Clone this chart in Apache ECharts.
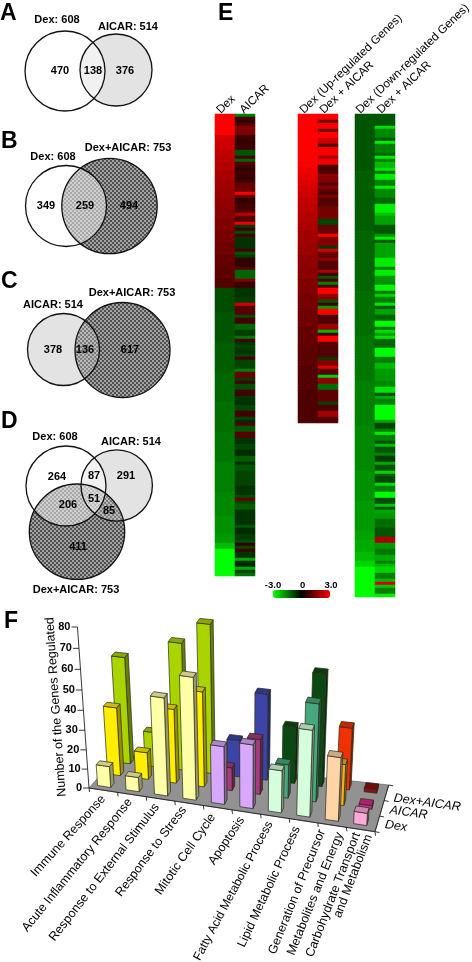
<!DOCTYPE html>
<html lang="en">
  <head>
    <meta charset="UTF-8" />
    <title>Dex AICAR gene figure</title>
    <style>
      html, body { margin: 0; padding: 0; background: #fff; overflow: hidden; }
      #main { width: 472px; height: 962px; }
    </style>
  </head>
  <body>
    <div id="main"></div>
    <script src="https://cdn.jsdelivr.net/npm/echarts@6/dist/echarts.min.js"></script>
    <script>
      // ---- data ----
      const vennTitles = ["Dex: 608", "AICAR: 514", "Dex: 608", "Dex+AICAR: 753", "AICAR: 514", "Dex+AICAR: 753", "Dex: 608", "AICAR: 514", "Dex+AICAR: 753"];
      const vennCounts = [470, 138, 376, 349, 259, 494, 378, 136, 617, 264, 87, 291, 206, 51, 85, 411];
      const panelLetters = ["A", "B", "C", "D", "E", "F"];
      const heatColumns = ["Dex", "AICAR", "Dex (Up-regulated Genes)", "Dex + AICAR", "Dex (Down-regulated Genes)", "Dex + AICAR"];

      // panel E, columns top to bottom
      const leftDex = [
        3,3,3,3,3,3,3,
        2.5,2.5,2.4,2.4,2.4,2.3,2.3,2.2,2.2,2.1,2.1,2.1,2,2,2,1.9,1.9,1.9,1.8,1.8,1.8,1.7,1.7,1.7,
        1.6,1.6,1.6,1.6,1.5,1.5,1.5,1.5,1.4,1.4,1.4,1.4,1.3,1.3,1.3,1.3,1.2,1.2,1.2,1.2,1.1,1.1,1.1,1.1,1,1,1,
        -0.9,-0.9,-0.9,-0.9,-0.9,-0.9,-0.9,-0.9,-1,-1,-1,-1,-1,-1,-1,-1,-1,-1,
        -1.1,-1.1,-1.1,-1.1,-1.1,-1.1,-1.1,-1.1,-1.1,-1.1,-1.2,-1.2,-1.2,-1.2,-1.2,-1.2,-1.2,-1.2,-1.2,-1.2,
        -1.3,-1.3,-1.3,-1.3,-1.3,-1.3,-1.3,-1.3,-1.3,-1.3,-1.4,-1.4,-1.4,-1.4,-1.4,-1.4,-1.4,-1.4,-1.4,-1.4,
        -1.5,-1.5,-1.5,-1.5,-1.5,-1.5,-1.5,-1.5,-1.5,-1.5,-1.6,-1.6,-1.6,-1.6,-1.6,-1.6,-1.6,-1.6,
        -1.7,-1.7,-1.7,-1.7,-1.7,-1.7,-1.8,-1.8,-1.8,-2.2,-2.2,-3,-3,-3,-3,-3,-3,-3,-3,-3
      ];
      const leftAicar = [
        -1.5,0.8,0.6,1,1.5,1.5,1.5,0.7,0.7,0.6,0.7,0.7,-1,-1,0.8,-1.2,1,0.7,0.6,0.7,0.7,0.6,0.8,1.2,1.2,1.2,3,1.2,0.6,0.6,
        0.8,0.8,1,2.2,1,1,2.8,-0.7,0.7,-0.9,0.8,-0.6,-0.6,-0.6,-0.6,0.8,-1,-0.7,0.6,0.6,0.6,1,-1.2,-1.2,-1.2,1.5,0.7,0.7,
        -0.6,-0.6,-0.6,-0.7,-0.7,2.5,1,1,1,-0.9,0.8,0.8,-1.2,-1.2,-0.7,-0.7,-1.4,0.8,-0.6,-0.8,-0.7,-0.6,-0.8,0.8,-0.8,-0.8,-0.8,-1.5,
        1.2,1.2,-0.7,0.8,-0.9,-0.9,0.8,0.8,-0.6,-0.6,-0.6,-0.8,-0.8,0.8,0.8,-0.8,-0.5,1,-1,-1,1,1,-0.6,-0.6,-0.8,-0.8,
        -0.5,-0.5,-1.1,-1.1,-0.6,-1,-1,-0.8,-0.8,-0.8,-0.8,-0.8,-0.6,-0.6,-0.6,-0.9,1.2,-0.8,-1.1,-1.1,-0.6,-0.6,-0.6,-0.6,-0.6,-1,
        -0.5,-0.5,-0.7,-0.7,-0.9,0.6,-0.8,0.8,-0.6,-0.6,-2,-0.5,-0.5,-2,-0.8,-1.3
      ];
      const midDex = [
        3,3,3,3,3,3,3,3,3,3,3,3,3,3,3,3,
        2.9,2.9,2.8,2.8,2.7,2.7,2.6,2.6,2.5,2.5,2.4,2.4,2.3,2.3,2.2,2.2,2.2,2.1,2.1,2.1,2,2,2,
        1.9,1.9,1.9,1.9,1.8,1.8,1.8,1.8,1.7,1.7,1.7,1.7,1.6,1.6,1.6,1.6,1.5,1.5,1.5,1.5,1.5,
        1.4,1.4,1.4,1.4,1.4,1.3,1.3,1.3,1.3,1.3,1.3,1.2,1.2,1.2,1.2,1.2,1.2,
        1.1,1.1,1.1,1.1,1.1,1.1,1.1,1,1,1,1,1,1,1,1,0.9,0.9,0.9,0.9,0.9,0.9,0.9,0.9,0.9,0.9,0.9
      ];
      const midCombo = [
        3,3,1.2,3,3,1.2,3,3,2.4,2.4,0.9,2.9,2.9,2.9,2,2.8,2.8,0.9,0.9,0.9,1.7,1.5,1.5,1,1.6,1.2,0.9,1.5,1,1,
        1,1.4,1.4,1.4,1.4,-0.8,-0.8,1.2,1.2,1.2,3,1.5,1.5,1.6,-0.7,2.5,1.2,1.2,1.7,1,1,0.9,2,0.8,-1,0.9,
        -1.5,1,3,3,1.8,1.6,-1,0.8,-1.8,3,3,0.9,0.9,0.9,1.8,1.8,-2.2,0.8,3,3,1,1,1,1,1,-0.7,1.5,1.5,2.6,1,1,-2.4,
        1.7,1.7,-1.3,-1.3,1.1,1.1,1.1,1.1,-0.8,0.9,0.9,1.9,1.9,1,1
      ];
      const rightDex = [
        -1,-1,-1,-1,-1,-1,-1,-1,-1,-1,-1,-1,-1,-1,-1,-1,-1,-1,-1,
        -1.1,-1.1,-1.1,-1.1,-1.1,-1.1,-1.1,-1.1,-1.1,-1.1,-1.1,-1.1,-1.1,-1.1,-1.1,-1.1,-1.1,-1.1,-1.1,-1.1,
        -1.2,-1.2,-1.2,-1.2,-1.2,-1.2,-1.2,-1.2,-1.2,-1.2,-1.2,-1.2,-1.2,-1.2,-1.2,-1.2,-1.2,-1.2,-1.2,-1.2,
        -1.3,-1.3,-1.3,-1.3,-1.3,-1.3,-1.3,-1.3,-1.3,-1.3,-1.3,-1.3,-1.3,-1.3,-1.3,
        -1.4,-1.4,-1.4,-1.4,-1.4,-1.4,-1.4,-1.4,-1.4,-1.4,-1.4,-1.4,-1.4,-1.4,-1.4,
        -1.5,-1.5,-1.5,-1.5,-1.5,-1.5,-1.5,-1.5,-1.5,-1.5,-1.5,-1.5,-1.5,-1.5,-1.5,
        -1.6,-1.6,-1.6,-1.6,-1.6,-1.6,-1.6,-1.6,-1.6,-1.6,-1.6,-1.6,-1.6,-1.6,-1.6,
        -1.7,-1.7,-1.7,-1.7,-1.7,-1.7,-1.7,-1.7,-1.7,-1.7,-1.8,-1.8,-1.8,-1.8,-1.8,-1.8,-1.8,-1.8,-1.8,-1.8,
        -1.9,-1.9,-1.9,-2,-2,-2,-2,-2.2,-2.2,-2.2,-2.5,-2.5,-3,-3,-3,-3,-3,-3,-3,-3,-3,-3
      ];
      const rightCombo = [
        -1,-1,-1,-1,-2.6,-1.6,-1.6,-1.6,-1,-2.8,-1.5,-1.5,-1.5,-1.2,-2.8,-1.5,-2.2,-2.2,-2.7,-1.4,-2.8,-2.8,-1.5,-1.5,-2.8,-1.6,-1.6,-1.6,-1.2,-1.2,
        -2.8,-2.8,-2.8,-2.3,-1.9,-1.9,-1.9,-1,-1,-1,-1.8,-2.8,-1,-1.9,-1.9,-1.9,-1.9,-1.9,-2.8,-2.8,-2.8,-1.5,-2.8,-2.8,-1.8,-1.8,-1.6,-2.9,-2.9,-1.4,
        -2.5,-1.5,-1.5,-2.7,-1,-1.9,-1.9,-1.2,-1.2,-3,-3,-1.3,-2.6,-1.9,-2.7,-1.2,-1.2,-1.2,-3,-3,-3,-1.5,-1.5,-2.2,-2.2,-1.8,-1.8,-1.8,-1.8,-1.6,
        -1.6,-2.7,-2.7,-0.9,-2,-1.5,-1.5,-3,-3,-3,-3,-3,-2,-0.8,-0.8,-1.5,-2.8,-1.5,-1.5,-1,-2.2,-1,-1,-1.5,-0.7,-0.7,-2,-1,-1,-2.5,
        -1.1,-0.8,-0.8,-2.6,-1.5,-1.5,-3,-3,-0.9,-0.9,-2.3,-1,-2,-1.8,-1.8,-1.3,-1.3,-1.3,-1,-1,-1,2,2,-1.8,-1.8,-1.4,-1.4,-2,-2,-1.5,
        -2.2,-2.5,-2.5,-1.5,-1.5,-2.2,2.5,-2.4,-1.5,-1.5,-2.8
      ];

      // panel F
      const categories = [
        "Immune Response", "Acute Inflammatory Response", "Response to External Stimulus", "Response to Stress",
        "Mitotic Cell Cycle", "Apoptosis", "Fatty Acid Metabolic Process", "Lipid Metabolic Process",
        "Generation of Precursor\nMetabolites and Energy", "Carbohydrate Transport\nand Metabolism"
      ];
      const seriesNames = ["Dex", "AICAR", "Dex+AICAR"];
      const dexGenes = [11, 7.5, 50, 62, 30, 33, 22, 44.5, 33, 6.5];
      const aicarGenes = [35, 14, 38, 48.5, 12, 28.5, 17.5, 50, 21.5, 2];
      const comboGenes = [54, 18, 64, 74.5, 19, 44, 29, 57, 32, 2];
      const valueTicks = [0, 10, 20, 30, 40, 50, 60, 70, 80];

      // colours by category, then Dex / AICAR / Dex+AICAR
      const barColors = [
        ["#ffffa8", "#ffee00", "#aad400"], ["#ffffa8", "#ffee00", "#aad400"],
        ["#ffffa8", "#ffee00", "#aad400"], ["#ffffa8", "#ffee00", "#aad400"],
        ["#d8a8ff", "#a83a80", "#3c44a8"], ["#d8a8ff", "#a83a80", "#3c44a8"],
        ["#d5ffdc", "#47a87e", "#0a4a12"], ["#d5ffdc", "#47a87e", "#0a4a12"],
        ["#ffd5a8", "#f5b020", "#f03000"], ["#ffa8dc", "#d42a8c", "#8b1010"]
      ];

      // ---- layout (page pixels) ----
      const FONT = '"Liberation Sans", Arial, sans-serif';
      const letterPos = [[0, 25], [1, 153], [1, 293], [1, 433], [218, 25], [4, 633]];
      const titlePos = [[57, 20], [128, 27], [53, 157], [128, 148], [53, 305], [132, 293], [55, 437], [131, 442], [76, 590]];
      const countPos = [
        [60, 71], [93, 71], [125, 71], [46, 206], [85, 206], [129, 206], [53, 350], [85, 350], [130, 350],
        [57, 476.5], [94, 476], [126, 476], [68, 504.5], [94, 499], [109, 511], [78, 547]
      ];
      const columnLabelPos = [[218.5, 111.7], [241.7, 111.7], [301.7, 111.7], [321.7, 111.7], [358, 111.7], [379, 111.7]];
      // panel circles: [cx, cy, r]
      const dexCircles = [[65, 71, 40], [66, 206, 40.5], [66, 486, 40]];
      const aicarCircles = [[116, 70, 36], [63.5, 349.5, 36], [116.7, 485.5, 35.7]];
      const comboCircles = [[109.5, 206, 47.7], [122.5, 350, 47.5], [77, 531.7, 47.7]];
      const colorbarLabels = [["-3.0", 273, 585.5], ["0", 302.7, 585.5], ["3.0", 331, 585.5]];
      // [x, y, angle, font size] at the upper end of each label line
      const labelAnchors = [
        [103.3, 797, 48, 12.5], [130, 800, 51, 12.5], [157, 805, 52, 12.5], [184, 808, 53, 12.5],
        [213, 815, 55, 12.5], [242, 818, 56, 12.5], [270, 822, 62, 12.1], [297, 827, 65, 12.5],
        [322, 830, 68, 12.5], [340, 833, 68, 12.5], [357, 833, 69, 12.5], [369, 835, 69, 12.5]
      ];
      const legendAnchors = [[385, 824.5], [389.7, 810], [393.7, 798]];
      const floorCorners = { fl: [89, 788], fr: [375, 831.7], br: [388.7, 785], bl: [118, 755] };

      function checker() {
        const c = document.createElement("canvas");
        c.width = 4;
        c.height = 4;
        const g = c.getContext("2d");
        g.fillStyle = "#505050";
        g.fillRect(0, 0, 4, 4);
        g.fillStyle = "#a2a2a2";
        g.fillRect(0, 0, 2, 2);
        g.fillRect(2, 2, 2, 2);
        return c;
      }
      const dotted = { image: checker(), repeat: "repeat" };

      // venn draw order: fills first, overlays next, outlines last
      const vennLayers = [];
      aicarCircles.forEach((c) => vennLayers.push([...c, { fill: "#dadada" }]));
      comboCircles.forEach((c) => vennLayers.push([...c, { fill: dotted }]));
      aicarCircles.forEach((c) => vennLayers.push([...c, { fill: "rgba(255,255,255,0.25)" }]));
      dexCircles.forEach((c) => vennLayers.push([...c, { fill: "rgba(255,255,255,0.5)" }]));
      [...dexCircles, ...aicarCircles, ...comboCircles].forEach((c) =>
        vennLayers.push([...c, { fill: null, stroke: "#111", lineWidth: 1.3 }])
      );

      // all page text
      const pageText = [];
      panelLetters.forEach((t, i) =>
        pageText.push({ text: t, pos: letterPos[i], font: "bold 23px " + FONT, align: "left", baseline: "bottom" })
      );
      vennTitles.forEach((t, i) => pageText.push({ text: t, pos: titlePos[i], font: "bold 11px " + FONT }));
      vennCounts.forEach((t, i) => pageText.push({ text: String(t), pos: countPos[i], font: "bold 11px " + FONT }));
      heatColumns.forEach((t, i) =>
        pageText.push({ text: t, pos: columnLabelPos[i], font: "11.7px " + FONT, align: "left", rot: 44 })
      );
      colorbarLabels.forEach((l) => pageText.push({ text: l[0], pos: [l[1], l[2]], font: "bold 9.5px " + FONT }));
      pageText.push({ text: "Number of the Genes Regulated", pos: [56, 707], font: "12.5px " + FONT, rot: 94 });
      categories
        .flatMap((c) => c.split("\n"))
        .forEach((t, i) => {
          const a = labelAnchors[i];
          pageText.push({ text: t, pos: [a[0], a[1]], font: a[3] + "px " + FONT, align: "right", rot: a[2] });
        });
      seriesNames.forEach((t, i) =>
        pageText.push({ text: t, pos: legendAnchors[i], font: "italic 12.5px " + FONT, align: "left", rot: -8 })
      );

      // ---- panel F projection ----
      function floorPoint(u, v) {
        const f = floorCorners;
        const lx = f.fl[0] + (f.bl[0] - f.fl[0]) * v;
        const ly = f.fl[1] + (f.bl[1] - f.fl[1]) * v;
        const rx = f.fr[0] + (f.br[0] - f.fr[0]) * v;
        const ry = f.fr[1] + (f.br[1] - f.fr[1]) * v;
        return [lx + (rx - lx) * u, ly + (ry - ly) * u];
      }
      // verticals lean away from x=245 as they rise
      function lift(p, h) {
        return [p[0] + h * (p[0] - 245) * 0.00046, p[1] - h];
      }
      function heightOf(api, val) {
        const px = api.coord([0, 0])[1] - api.coord([0, val])[1];
        return px * (0.93 + (0.07 * val) / 80);
      }
      function shade(hex, k) {
        const n = parseInt(hex.slice(1), 16);
        const c = [(n >> 16) & 255, (n >> 8) & 255, n & 255].map((x) => Math.round(x * k));
        return "rgb(" + c.join(",") + ")";
      }

      function barRenderer(depth) {
        return function (params, api) {
          const i = api.value(0);
          const h = heightOf(api, api.value(1));
          const u0 = 0.02 + 0.1 * i;
          const v0 = 0.1 + 0.35 * depth;
          const a = floorPoint(u0, v0);
          const b = floorPoint(u0 + 0.046, v0);
          const c = floorPoint(u0 + 0.046, v0 + 0.12);
          const d = floorPoint(u0, v0 + 0.12);
          const [A, B, C, D] = [a, b, c, d].map((p) => lift(p, h));
          const col = barColors[i][depth];
          const line = { stroke: "#2a2a1a", lineWidth: 0.7 };
          return {
            type: "group",
            children: [
              { type: "polygon", shape: { points: [b, c, C, B] }, style: { fill: shade(col, 0.6), ...line } },
              { type: "polygon", shape: { points: [a, b, B, A] }, style: { fill: col, ...line } },
              { type: "polygon", shape: { points: [A, B, C, D] }, style: { fill: shade(col, 0.8), ...line } }
            ]
          };
        };
      }

      function floorRenderer(params, api) {
        const f = floorCorners;
        const line = { stroke: "#222", lineWidth: 0.9 };
        const kids = [
          { type: "polygon", shape: { points: [f.fl, f.fr, f.br, f.bl] }, style: { fill: "#929292", stroke: "#555", lineWidth: 0.6 } }
        ];
        kids.push({ type: "line", shape: { x1: f.fl[0], y1: f.fl[1], x2: f.fr[0], y2: f.fr[1] }, style: line });
        kids.push({ type: "line", shape: { x1: f.fr[0], y1: f.fr[1], x2: f.br[0], y2: f.br[1] }, style: line });
        for (let k = 0; k <= categories.length; k++) {
          const p = floorPoint(k / categories.length, 0);
          kids.push({ type: "line", shape: { x1: p[0], y1: p[1], x2: p[0] + 0.5, y2: p[1] + 4 }, style: line });
        }
        for (let k = 0; k <= seriesNames.length; k++) {
          const p = floorPoint(1, k / seriesNames.length);
          kids.push({ type: "line", shape: { x1: p[0], y1: p[1], x2: p[0] + 4.5, y2: p[1] + 0.8 }, style: line });
        }
        const top = lift(f.fl, heightOf(api, valueTicks[valueTicks.length - 1]));
        kids.push({ type: "line", shape: { x1: f.fl[0], y1: f.fl[1], x2: top[0], y2: top[1] }, style: line });
        valueTicks.forEach((t) => {
          const p = lift(f.fl, heightOf(api, t));
          kids.push({ type: "line", shape: { x1: p[0], y1: p[1], x2: p[0] - 6, y2: p[1] }, style: line });
          kids.push({
            type: "text",
            x: p[0] - 7,
            y: p[1],
            style: { text: String(t), font: "bold 11px " + FONT, fill: "#000", align: "right", verticalAlign: "middle" }
          });
        });
        return { type: "group", children: kids };
      }

      // ---- heatmap helpers ----
      const heatGrids = [
        { left: 215, top: 114, width: 40, height: 462, rows: [leftDex, leftAicar] },
        { left: 298, top: 114, width: 40, height: 309, rows: [midDex, midCombo] },
        { left: 355, top: 114, width: 40, height: 483, rows: [rightDex, rightCombo] }
      ];
      const grids = [];
      const xAxes = [];
      const yAxes = [];
      const series = [];

      // page-pixel grid for venn circles and free text
      grids.push({ left: 0, top: 0, width: 472, height: 962, outerBoundsMode: "none" });
      xAxes.push({ type: "value", gridIndex: 0, min: 0, max: 472, show: false });
      yAxes.push({ type: "value", gridIndex: 0, min: 0, max: 962, inverse: true, show: false });

      // value scale of panel F
      grids.push({ left: 89, top: 626.7, width: 286, height: 161, outerBoundsMode: "none" });
      xAxes.push({ type: "category", gridIndex: 1, data: categories, show: false });
      yAxes.push({ type: "value", gridIndex: 1, min: 0, max: 80, show: false });

      heatGrids.forEach((g) => {
        const idx = grids.length;
        grids.push({ left: g.left, top: g.top, width: g.width, height: g.height, outerBoundsMode: "none" });
        xAxes.push({ type: "category", gridIndex: idx, data: [0, 1], show: false });
        yAxes.push({
          type: "category",
          gridIndex: idx,
          inverse: true,
          data: g.rows[0].map((_, r) => r),
          show: false
        });
        const cells = [];
        g.rows.forEach((col, c) => col.forEach((v, r) => cells.push([c, r, v])));
        series.push({
          type: "heatmap",
          xAxisIndex: idx,
          yAxisIndex: idx,
          data: cells,
          progressive: 0,
          silent: true
        });
      });
      const heatIndexes = series.map((_, i) => i);

      series.push({
        type: "custom",
        xAxisIndex: 0,
        yAxisIndex: 0,
        data: vennLayers.map((c) => [c[0], c[1]]),
        silent: true,
        renderItem: function (params, api) {
          const c = vennLayers[params.dataIndex];
          const p = api.coord([c[0], c[1]]);
          return { type: "circle", shape: { cx: p[0], cy: p[1], r: c[2] }, style: c[3] };
        }
      });

      series.push({
        type: "custom",
        xAxisIndex: 1,
        yAxisIndex: 1,
        data: [[0, 0]],
        silent: true,
        renderItem: floorRenderer
      });
      [comboGenes, aicarGenes, dexGenes].forEach((vals, k) => {
        series.push({
          type: "custom",
          name: seriesNames[2 - k],
          xAxisIndex: 1,
          yAxisIndex: 1,
          encode: { x: 0, y: 1 },
          data: vals.map((v, i) => [i, v]),
          silent: true,
          renderItem: barRenderer(2 - k)
        });
      });

      series.push({
        type: "custom",
        xAxisIndex: 0,
        yAxisIndex: 0,
        z: 10,
        data: pageText.map((t) => t.pos),
        silent: true,
        renderItem: function (params, api) {
          const t = pageText[params.dataIndex];
          const p = api.coord(t.pos);
          return {
            type: "text",
            x: p[0],
            y: p[1],
            rotation: ((t.rot || 0) * Math.PI) / 180,
            style: {
              text: t.text,
              font: t.font,
              fill: "#000",
              align: t.align || "center",
              verticalAlign: t.baseline || "middle"
            }
          };
        }
      });

      const chart = echarts.init(document.getElementById("main"));
      chart.setOption({
        animation: false,
        backgroundColor: "#fff",
        grid: grids,
        xAxis: xAxes,
        yAxis: yAxes,
        visualMap: {
          type: "continuous",
          seriesIndex: heatIndexes,
          min: -3,
          max: 3,
          orient: "horizontal",
          left: 273,
          top: 590,
          padding: 0,
          itemWidth: 8,
          itemHeight: 57,
          text: null,
          showLabel: false,
          calculable: false,
          inRange: { color: ["#00ff00", "#000000", "#ff0000"] }
        },
        series: series
      });
    </script>
  </body>
</html>
